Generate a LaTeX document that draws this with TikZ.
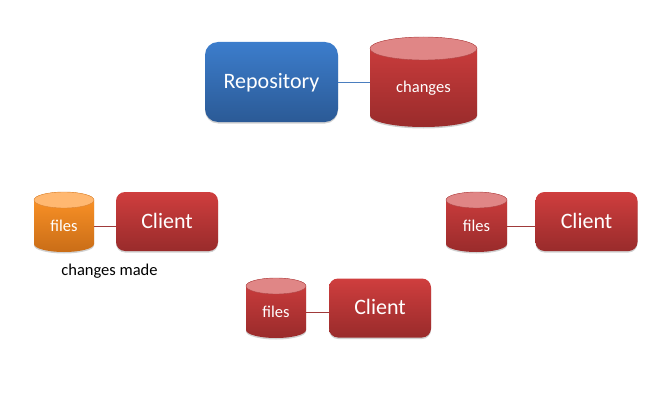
\documentclass[tikz,border=0pt]{standalone}
\usepackage{fontspec}
\setmainfont{Carlito}
\usepackage{xcolor}
\usetikzlibrary{shadows}
\definecolor{redtop}{HTML}{CF3E3E}
\definecolor{redbot}{HTML}{992B2B}
\definecolor{redlid}{HTML}{E08686}
\definecolor{bluetop}{HTML}{3C7DCC}
\definecolor{bluebot}{HTML}{2B5A96}
\definecolor{orangetop}{HTML}{FF9528}
\definecolor{orangebot}{HTML}{C96D17}
\definecolor{orangelid}{HTML}{FFB871}
\definecolor{linkblue}{HTML}{4A7EBF}
\definecolor{linkred}{HTML}{A03A3A}
\tikzset{
  softshadow/.style={drop shadow={shadow xshift=0pt,shadow yshift=-1.5pt,opacity=0.18,fill=black}},
  clientbox/.style={rounded corners=9pt,minimum width=102pt,minimum height=59pt,
    text height=18pt,text depth=5pt,
    top color=redtop,bottom color=redbot,text=white,font=\fontsize{22}{26}\selectfont,softshadow},
  repobox/.style={rounded corners=13pt,minimum width=133pt,minimum height=80pt,
    text height=18pt,text depth=5pt,
    top color=bluetop,bottom color=bluebot,text=white,font=\fontsize{22}{26}\selectfont,softshadow},
  dblabel/.style={text=white,font=\fontsize{16.5}{20}\selectfont,inner sep=0pt},
  redlink/.style={draw=linkred,line width=0.8pt},
  bluelink/.style={draw=linkblue,line width=0.8pt},
}
% #1 name, #2 left, #3 top, #4 width, #5 height, #6 ellipse y radius,
% #7 top colour, #8 bottom colour, #9 lid colour, text follows in \dbtext
\newcommand{\dbtext}{}
\newcommand{\dbcyl}[9]{%
  \path[top color=#7,bottom color=#8,softshadow]
    (#2,400-#3-#6) -- (#2,400-#3-#5+#6)
    arc[start angle=180,end angle=360,x radius=#4/2,y radius=#6]
    -- (#2+#4,400-#3-#6)
    arc[start angle=0,end angle=180,x radius=#4/2,y radius=#6] -- cycle;
  \fill[#9,draw=#8!70!#9,line width=0.4pt] (#2+#4/2,400-#3-#6) ellipse[x radius=#4/2,y radius=#6];
  \node[dblabel,minimum width=#4 pt,minimum height=#5 pt,inner sep=0pt] (#1)
    at (#2+#4/2,400-#3-#5/2-#6/2) {\dbtext};
}
\begin{document}
\begin{tikzpicture}[x=1pt,y=1pt]
  \useasboundingbox (0,0) rectangle (670,400);
  % Repository
  \node[repobox] (repo) at (271.5,318) {Repository};
  \renewcommand{\dbtext}{changes}
  \dbcyl{repodb}{370}{37}{107}{90}{11.5}{redtop}{redbot}{redlid}
  \draw[bluelink] (repo.east) -- (repo.east -| repodb.west);
  % Clients
  \node[clientbox] (clienta) at (167,178.5) {Client};
  \renewcommand{\dbtext}{files}
  \dbcyl{filesa}{34}{192}{60}{60}{8}{orangetop}{orangebot}{orangelid}
  \draw[redlink] (filesa.east) -- (filesa.east -| clienta.west);
  \node[clientbox] (clientb) at (586.5,178.5) {Client};
  \dbcyl{filesb}{446}{192}{61}{60}{8}{redtop}{redbot}{redlid}
  \draw[redlink] (filesb.east) -- (filesb.east -| clientb.west);
  \node[clientbox] (clientc) at (380,92) {Client};
  \dbcyl{filesc}{246}{278}{60}{60}{8}{redtop}{redbot}{redlid}
  \draw[redlink] (filesc.east) -- (filesc.east -| clientc.west);
  \node[font=\fontsize{16.5}{20}\selectfont,inner sep=0pt] (made) at (109.5,129) {changes made};
\end{tikzpicture}
\end{document}
